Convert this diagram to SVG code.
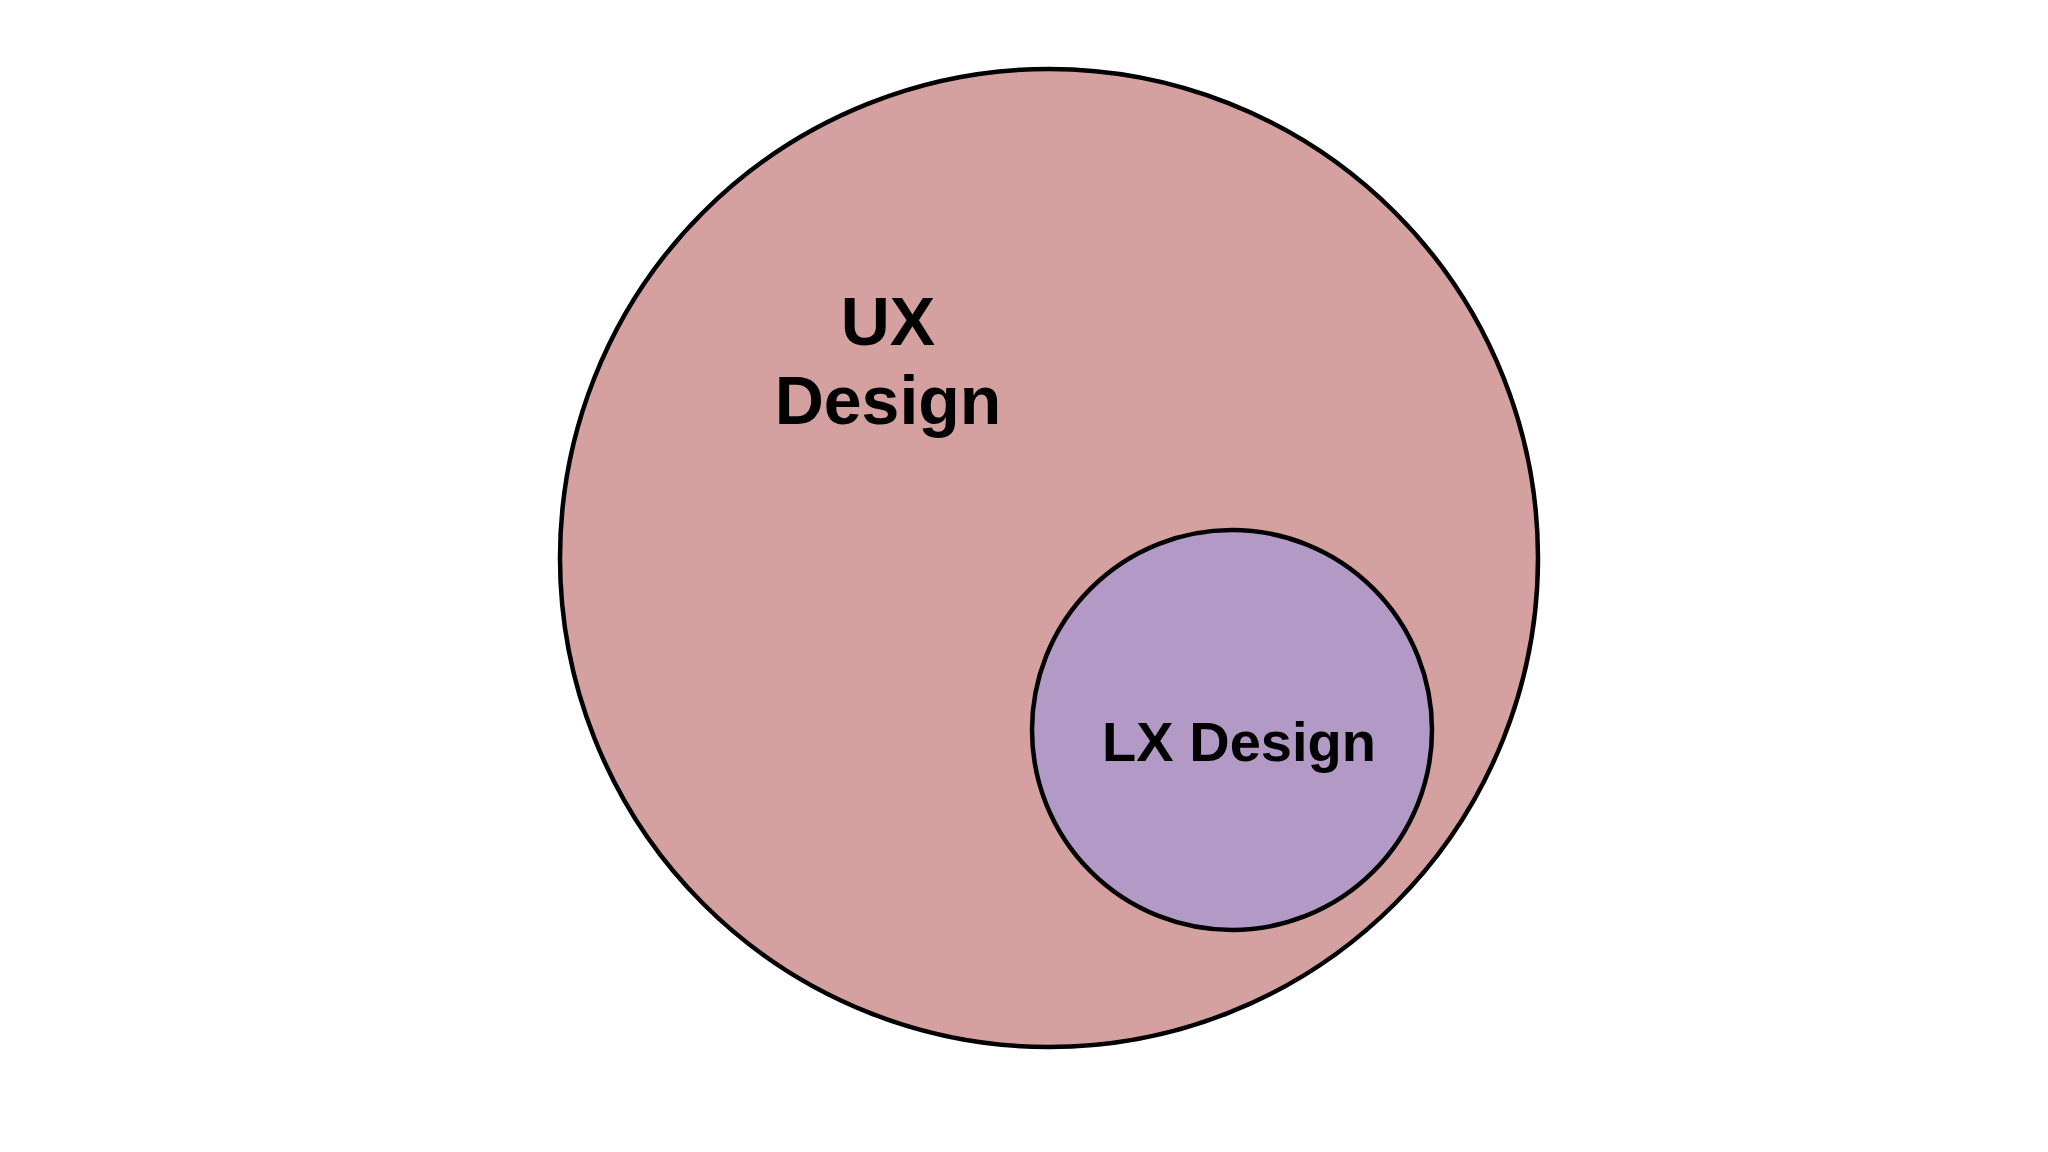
<svg xmlns="http://www.w3.org/2000/svg" width="2048" height="1152" viewBox="0 0 2048 1152">
<style>
.c{stroke:#000;stroke-width:4.5}
.t{font-family:"Liberation Sans",Arial,sans-serif;font-weight:bold;fill:#000;text-anchor:middle}
</style>
<rect width="2048" height="1152" fill="#fff"/>
<g id="ux">
<circle class="c" cx="1049" cy="558" r="489" fill="#D4A0A0"/>
<text class="t" x="888" y="345" font-size="68">UX</text>
<text class="t" x="888" y="424" font-size="68">Design</text>
</g>
<g id="lx">
<circle class="c" cx="1232" cy="730" r="200" fill="#B39AC6"/>
<text class="t" x="1239" y="761" font-size="56">LX Design</text>
</g>
<g id="connectors"/>
</svg>
